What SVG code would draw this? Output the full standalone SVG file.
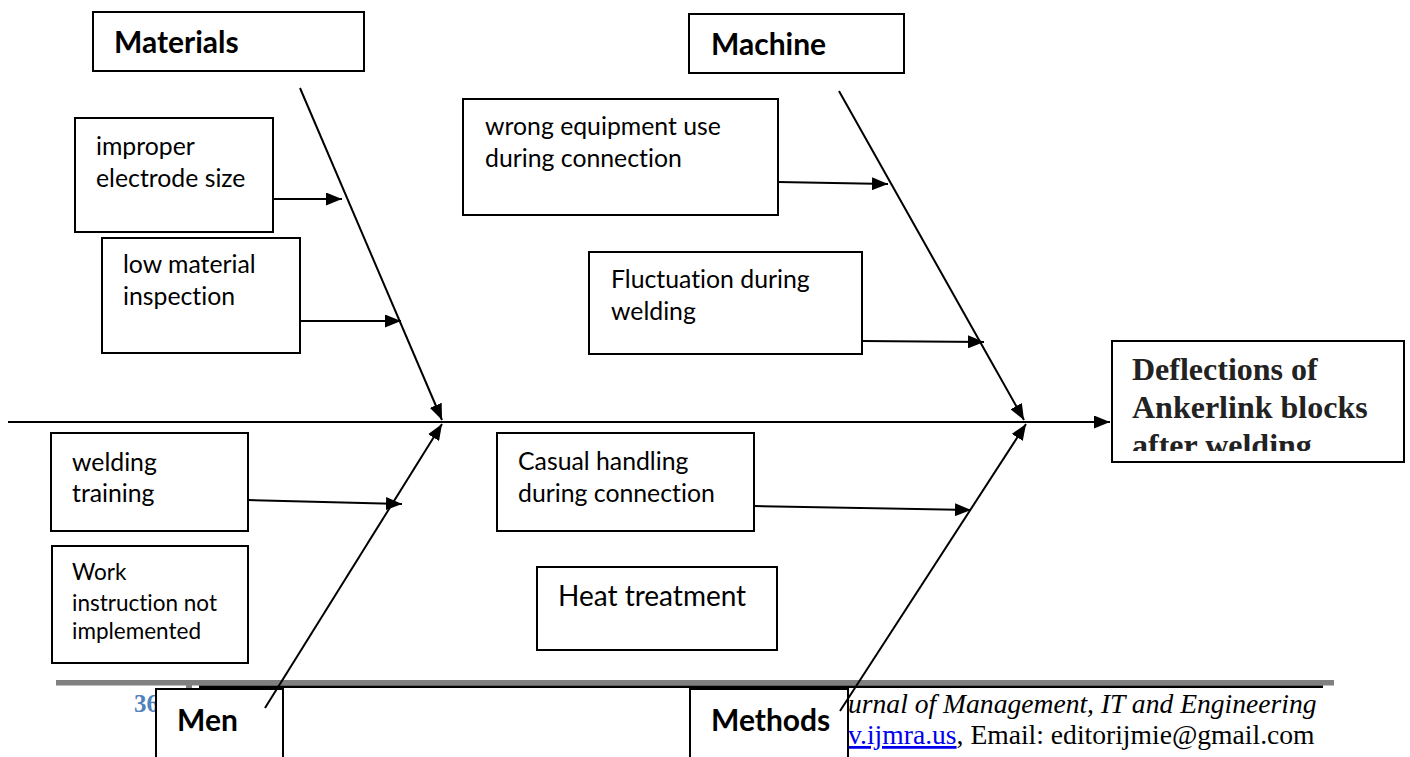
<svg xmlns="http://www.w3.org/2000/svg" width="1410" height="757" viewBox="0 0 1410 757">
<style>
text{font-variant-ligatures:none;font-feature-settings:"liga" 0}
.box{fill:#fff;stroke:#000;stroke-width:2}
.cat{font-family:Lato,"Liberation Sans",sans-serif;font-weight:bold;font-size:30px;fill:#000}
.txt{font-family:Lato,"Liberation Sans",sans-serif;font-size:24.8px;fill:#000}
.big{font-family:Lato,"Liberation Sans",sans-serif;font-size:28px;fill:#000}
.sm{font-family:Lato,"Liberation Sans",sans-serif;font-size:22.5px;fill:#000}
.eff{font-family:"Liberation Serif",serif;font-weight:bold;font-size:32px;fill:#222}
.ln{stroke:#000;stroke-width:2;fill:none}
.ft{font-family:"Liberation Serif",serif;font-size:27.6px;fill:#000}
</style>
<defs>
<marker id="ah" markerUnits="userSpaceOnUse" markerWidth="16" markerHeight="13" viewBox="0 0 16 13" refX="16" refY="6.5" orient="auto">
<path d="M0,0 L16,6.5 L0,13 z" fill="#000"/>
</marker>
<clipPath id="effclip"><rect x="1112" y="342" width="292" height="109"/></clipPath>
</defs>
<rect width="1410" height="757" fill="#fff"/>

<g id="footer">
<rect x="56" y="680" width="1278" height="5.5" fill="#808080"/>
<rect x="199" y="685.5" width="1124" height="2.5" fill="#000"/>
<rect x="186" y="685" width="6" height="4" fill="#808080"/>
<text x="134" y="712" font-family="Liberation Serif,serif" font-weight="bold" font-size="25" fill="#4f81bd">36</text>
<text class="ft" x="848" y="713" font-style="italic">urnal of Management, IT and Engineering</text>
<text class="ft" x="848" y="744"><tspan fill="#0000ee" text-decoration="underline">v.ijmra.us</tspan>, Email: editorijmie@gmail.com</text>
</g>

<g id="materials">
<rect class="box" x="93" y="12" width="271" height="59"/>
<text class="cat" x="114" y="53">Materials</text>
</g>
<g id="machine">
<rect class="box" x="689" y="14" width="215" height="59"/>
<text class="cat" x="711" y="55">Machine</text>
</g>
<g id="improper-electrode">
<rect class="box" x="75" y="118" width="198" height="114"/>
<text class="txt" x="96" y="155">improper</text>
<text class="txt" x="96" y="187">electrode size</text>
</g>
<g id="low-material">
<rect class="box" x="102" y="238" width="198" height="115"/>
<text class="txt" x="123" y="273">low material</text>
<text class="txt" x="123" y="305">inspection</text>
</g>
<g id="wrong-equipment">
<rect class="box" x="463" y="99" width="315" height="116"/>
<text class="txt" x="485" y="135">wrong equipment use</text>
<text class="txt" x="485" y="167">during connection</text>
</g>
<g id="fluctuation">
<rect class="box" x="589" y="252" width="273" height="102"/>
<text class="txt" x="611" y="288">Fluctuation during</text>
<text class="txt" x="611" y="320">welding</text>
</g>
<g id="effect">
<rect class="box" x="1112" y="341" width="292" height="121"/>
<g clip-path="url(#effclip)">
<text class="eff" x="1132" y="380">Deflections of</text>
<text class="eff" x="1132" y="418">Ankerlink blocks</text>
<text class="eff" x="1132" y="456">after welding</text>
</g>
</g>
<g id="welding-training">
<rect class="box" x="51" y="433" width="197" height="98"/>
<text class="txt" x="72" y="471">welding</text>
<text class="txt" x="72" y="502">training</text>
</g>
<g id="work-instruction">
<rect class="box" x="52" y="546" width="196" height="117"/>
<text class="sm" x="72" y="580">Work</text>
<text class="sm" x="72" y="611">instruction not</text>
<text class="sm" x="72" y="639">implemented</text>
</g>
<g id="casual-handling">
<rect class="box" x="497" y="433" width="257" height="98"/>
<text class="txt" x="518" y="470">Casual handling</text>
<text class="txt" x="518" y="502">during connection</text>
</g>
<g id="heat-treatment">
<rect class="box" x="537" y="567" width="240" height="83"/>
<text class="big" x="558" y="606">Heat treatment</text>
</g>
<g id="men">
<rect class="box" x="156" y="689" width="127" height="72"/>
<text class="cat" x="177" y="731">Men</text>
</g>
<g id="methods">
<rect class="box" x="690" y="689" width="158" height="72"/>
<text class="cat" x="711" y="731">Methods</text>
</g>

<g id="connectors">
<line class="ln" x1="8" y1="422" x2="1110" y2="422" stroke-width="2.5" marker-end="url(#ah)"/>
<line class="ln" x1="300" y1="88" x2="442" y2="420" marker-end="url(#ah)"/>
<line class="ln" x1="839" y1="91" x2="1024" y2="420" marker-end="url(#ah)"/>
<line class="ln" x1="265" y1="708" x2="442" y2="424" marker-end="url(#ah)"/>
<line class="ln" x1="840" y1="711" x2="1026" y2="424" marker-end="url(#ah)"/>
<line class="ln" x1="273" y1="199" x2="342" y2="199" marker-end="url(#ah)"/>
<line class="ln" x1="300" y1="321" x2="401" y2="321" marker-end="url(#ah)"/>
<line class="ln" x1="778" y1="182" x2="888" y2="184" marker-end="url(#ah)"/>
<line class="ln" x1="862" y1="341" x2="984" y2="342" marker-end="url(#ah)"/>
<line class="ln" x1="248" y1="500" x2="402" y2="504" marker-end="url(#ah)"/>
<line class="ln" x1="754" y1="506" x2="971" y2="510" marker-end="url(#ah)"/>
</g>
</svg>
